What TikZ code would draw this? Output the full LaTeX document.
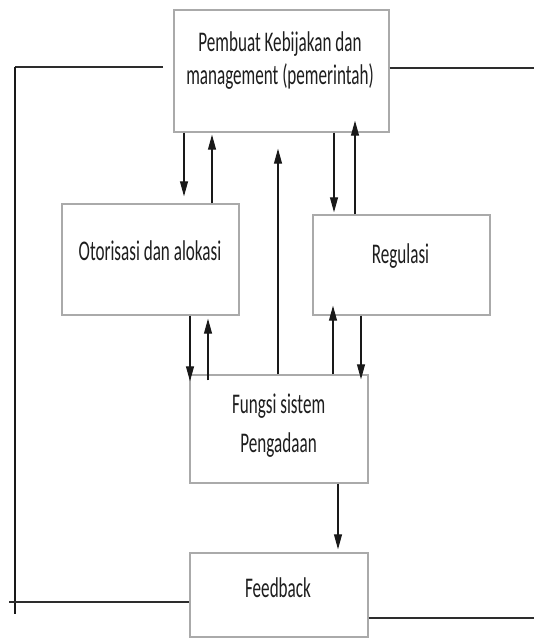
\documentclass[tikz,border=0pt]{standalone}
\usepackage{fontspec}
\newfontfamily\calib[FakeStretch=0.6]{Carlito}
\usetikzlibrary{arrows.meta}
\definecolor{boxgray}{RGB}{170,170,170}
\definecolor{txtcol}{RGB}{30,30,30}
\definecolor{linecol}{RGB}{25,25,25}
\definecolor{fbcol}{RGB}{45,45,45}
\begin{document}
\begin{tikzpicture}[x=1pt,y=-1pt,
  box/.style={draw=boxgray, line width=1.4pt, inner sep=0pt, fill=white},
  lbl/.style={anchor=base, inner sep=0pt, font=\calib\fontsize{28.5}{30}\selectfont, text=txtcol},
  arr/.style={draw=linecol, line width=1.1pt, -{Triangle[length=15pt,width=8pt]}},
  fbline/.style={draw=fbcol, line width=2pt},
  thinline/.style={draw=linecol, line width=1.2pt}]
\useasboundingbox (0,0) rectangle (534,639);
% boxes
\node[box, minimum width=215pt, minimum height=122pt] (top) at (281.5,71) {};
\node[box, minimum width=177pt, minimum height=111pt] (oto) at (150.5,259.5) {};
\node[box, minimum width=177pt, minimum height=100pt] (reg) at (401.5,265) {};
\node[box, minimum width=178pt, minimum height=108pt] (fun) at (279,429) {};
\node[box, minimum width=178pt, minimum height=84pt] (feed) at (279,595) {};
% texts
\node[lbl] (t1) at (280,52) {Pembuat Kebijakan dan};
\node[lbl] (t2) at (280,85) {management (pemerintah)};
\node[lbl] (t3) at (150,260) {Otorisasi dan alokasi};
\node[lbl] (t4) at (400.5,263) {Regulasi};
\node[lbl] (t5) at (278.6,413) {Fungsi sistem};
\node[lbl] (t6) at (278.6,452) {Pengadaan};
\node[lbl] (t7) at (278,597) {Feedback};
% column coordinates
\coordinate (a1) at (184,0);
\coordinate (a2) at (212,0);
\coordinate (a3) at (278,0);
\coordinate (a4) at (334,0);
\coordinate (a5) at (355,0);
\coordinate (a6) at (190,0);
\coordinate (a7) at (208,0);
\coordinate (a8) at (333,0);
\coordinate (a9) at (361,0);
\coordinate (a10) at (338,0);
% arrows
\draw[arr, shorten >=7pt] (top.south -| a1) -- (oto.north -| a1);
\draw[arr, shorten >=2pt] (oto.north -| a2) -- (top.south -| a2);
\draw[arr, shorten >=16pt] (fun.north -| a3) -- (top.south -| a3);
\draw[arr, shorten >=2pt] (top.south -| a4) -- (reg.north -| a4);
\draw[arr, shorten >=-12pt] (reg.north -| a5) -- (top.south -| a5);
\draw[arr, shorten >=-7pt] (oto.south -| a6) -- (fun.north -| a6);
\draw[arr, shorten <=-6pt, shorten >=3pt] (fun.north -| a7) -- (oto.south -| a7);
\draw[arr, shorten >=-10pt] (fun.north -| a8) -- (reg.south -| a8);
\draw[arr, shorten >=-5pt] (reg.south -| a9) -- (fun.north -| a9);
\draw[arr, shorten >=3pt] (fun.south -| a10) -- (feed.north -| a10);
% feedback loop lines
\coordinate (tlA) at (163,67);
\coordinate (cTL) at (15,67);
\coordinate (cBL) at (15,614);
\coordinate (tr) at (534,68);
\coordinate (bl0) at (9,602);
\coordinate (br) at (534,618);
\draw[fbline] (tlA) -- (cTL);
\draw[thinline] (cTL) -- (cBL);
\draw[fbline] (top.east |- tr) -- (tr);
\draw[fbline] (bl0) -- (feed.west |- bl0);
\draw[fbline] (feed.east |- br) -- (br);
\end{tikzpicture}
\end{document}
